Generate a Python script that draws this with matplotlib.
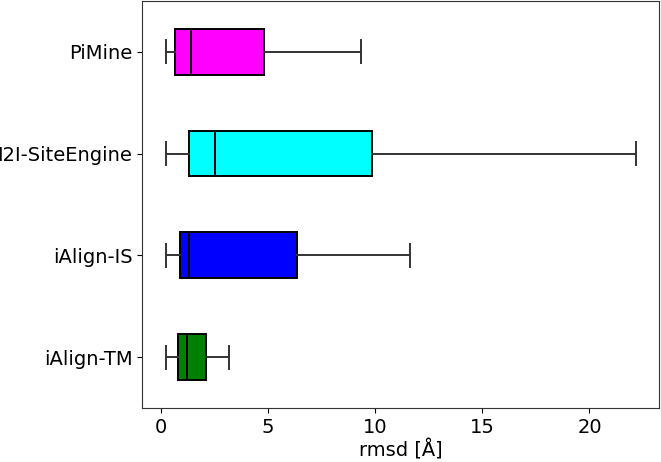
import matplotlib
matplotlib.use("Agg")
import matplotlib.pyplot as plt

# bottom to top
labels = ["iAlign-TM", "iAlign-IS", "I2I-SiteEngine", "PiMine"]
colors = ["green", "blue", "cyan", "magenta"]
whislo = [0.26, 0.26, 0.22, 0.22]
q1 = [0.81, 0.90, 1.32, 0.68]
med = [1.22, 1.32, 2.54, 1.40]
q3 = [2.11, 6.34, 9.86, 4.80]
whishi = [3.19, 11.63, 22.15, 9.36]

stats = []
for i in range(len(labels)):
    stats.append(dict(label=labels[i], whislo=whislo[i], q1=q1[i], med=med[i],
                      q3=q3[i], whishi=whishi[i], fliers=[]))

fig = plt.figure(figsize=(6.61, 4.62), dpi=100)
ax = fig.add_axes([0.215, 0.117, 0.782, 0.881])
bp = ax.bxp(stats, vert=False, widths=0.45, patch_artist=True, showfliers=False,
            medianprops=dict(color="black", linewidth=1.4),
            boxprops=dict(edgecolor="black", linewidth=1.4),
            whiskerprops=dict(color="#333333", linewidth=1.4),
            capprops=dict(color="#333333", linewidth=1.4))
for box, c in zip(bp["boxes"], colors):
    box.set_facecolor(c)

ax.set_xlabel("rmsd [Å]", fontsize=14, labelpad=2)
ax.tick_params(labelsize=14)
for s in ax.spines.values():
    s.set_color("#333333")
fig.savefig("out.png", dpi=100)
